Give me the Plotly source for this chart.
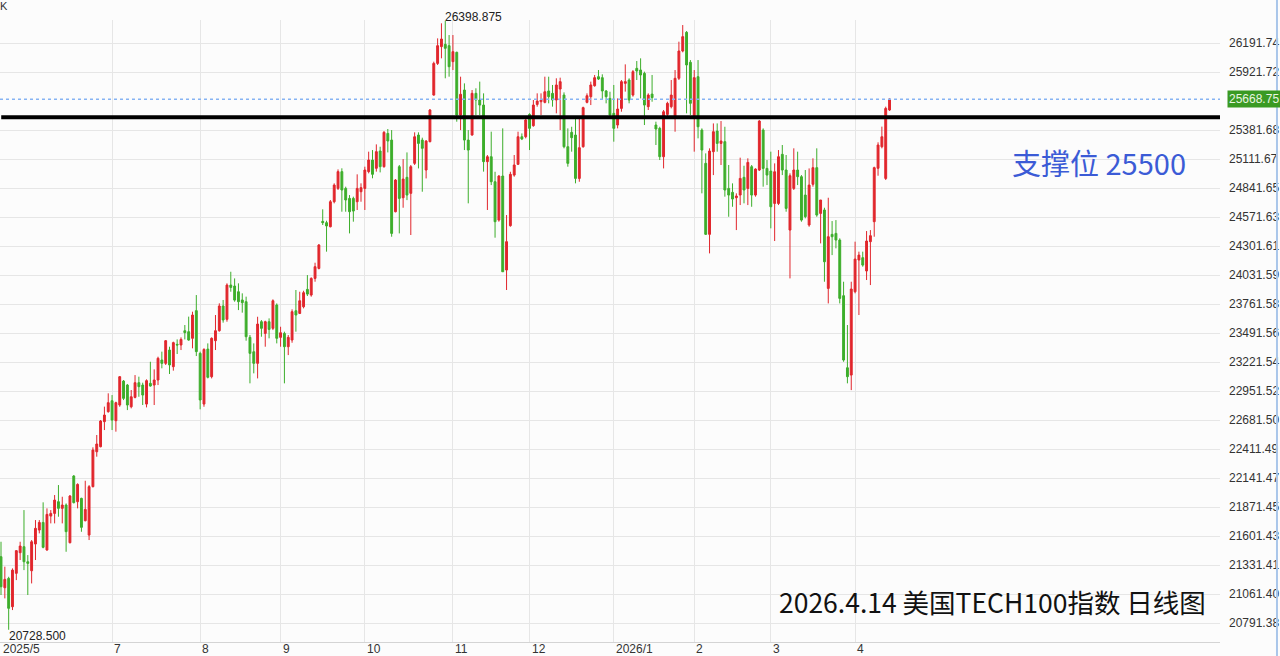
import plotly.graph_objects as go

# ---------------- data ----------------
opens = [21409, 21120, 21207, 20943, 21254, 21446, 21502, 21362, 21278, 21527,
         21657, 21728, 21471, 21787, 21812, 21921, 21859, 21890, 21539, 22160,
         21921, 21952, 21744, 21610, 22061, 22386, 22433, 22666, 22759, 22861,
         22675, 22821, 23044, 23007, 22805, 22892, 23029, 23007, 22830, 23023,
         23007, 23054, 23240, 23209, 23333, 23178, 23386, 23380, 23513, 23504,
         23442, 23700, 23302, 22830, 23342, 23085, 23420, 23513, 23743, 23619,
         23938, 23929, 23876, 23799, 23783, 23451, 23317, 23209, 23597, 23488,
         23597, 23535, 23752, 23451, 23488, 23364, 23426, 23699, 23674, 23736,
         23898, 23845, 24000, 24093, 24531, 24519, 24481, 24714, 24838, 24994,
         24838, 24745, 24745, 24714, 24807, 24838, 24994, 25102, 25025, 25186,
         25040, 25350, 25288, 24621, 25040, 24751, 24941, 24792, 25071, 25335,
         25288, 25009, 25273, 25707, 26002, 26158, 26179, 26167, 26018, 26105,
         25521, 25754, 25288, 25335, 25723, 25661, 25614, 25087, 25133, 24900,
         24543, 24953, 24078, 24491, 24962, 25062, 25319, 25319, 25527, 25422,
         25620, 25645, 25639, 25745, 25723, 25661, 25763, 25707, 25226, 25360,
         25335, 24931, 25226, 25639, 25692, 25794, 25878, 25869, 25745, 25676,
         25537, 25428, 25583, 25816, 25847, 25707, 25956, 25940, 25909, 25599,
         25716, 25428, 25397, 25133, 25527, 25599, 25490, 25863, 26117, 26291,
         26012, 25506, 25878, 25381, 25071, 24410, 25180, 25372, 25257, 25273,
         24838, 24801, 24751, 24776, 24941, 24838, 25040, 24776, 25009, 25381,
         25024, 24999, 24698, 24698, 25155, 25009, 24450, 24838, 25009, 24947,
         24776, 24497, 24876, 25031, 24605, 24637, 23907, 24410, 24419, 24357,
         23839, 23168, 23100, 23876, 24171, 24193, 24069, 24342, 24528, 25025,
         25226, 24931, 25568]

highs = [21548, 21316, 21222, 21300, 21471, 21548, 21843, 21424, 21564, 21750,
         21750, 21915, 21859, 21843, 21983, 22076, 21967, 21905, 21983, 22169,
         22092, 21958, 22116, 22076, 22427, 22542, 22681, 22806, 22930, 22914,
         22852, 23091, 23054, 23017, 22961, 23100, 23085, 23029, 23060, 23224,
         23153, 23271, 23318, 23426, 23364, 23411, 23432, 23451, 23566, 23644,
         23690, 23845, 23318, 23349, 23395, 23451, 23659, 23768, 23799, 23954,
         24062, 24000, 23954, 23861, 23830, 23473, 23395, 23643, 23612, 23606,
         23628, 23805, 23767, 23550, 23504, 23473, 23712, 23892, 23876, 23885,
         24031, 24010, 24146, 24320, 24643, 24537, 24730, 24885, 25015, 25025,
         24854, 24776, 24761, 24969, 24885, 25040, 25180, 25195, 25248, 25226,
         25372, 25391, 25381, 24925, 25056, 25111, 25173, 25056, 25360, 25360,
         25310, 25288, 25577, 26018, 26235, 26375, 26398.875, 26266, 26266, 26111,
         25878, 25816, 25381, 25754, 25770, 25832, 25723, 25149, 25366, 24993,
         24962, 25397, 24590, 24993, 25149, 25366, 25350, 25490, 25537, 25661,
         25723, 25723, 25878, 25878, 25801, 25863, 25869, 25732, 25397, 25412,
         25484, 25490, 25599, 25723, 25832, 25894, 25940, 25900, 25754, 25738,
         25801, 25676, 25847, 25993, 25863, 25940, 26024, 26049, 25925, 25723,
         25894, 25459, 25412, 25568, 25645, 25847, 25940, 26204, 26359, 26303,
         26033, 25940, 26033, 25397, 25164, 25211, 25443, 25443, 25465, 25412,
         25056, 24885, 24792, 25124, 25049, 25118, 25056, 25025, 25474, 25397,
         25102, 25180, 25071, 25195, 25242, 25149, 24978, 25211, 25180, 24962,
         25009, 25024, 25118, 25211, 24730, 24658, 24751, 24534, 24543, 24373,
         23969, 23566, 23969, 24342, 24249, 24249, 24441, 24450, 25040, 25267,
         25413, 25599, 25676]

lows = [21052, 21021, 20728.5, 20912, 21191, 21378, 21284, 21052, 21160, 21378,
        21626, 21487, 21465, 21719, 21719, 21781, 21719, 21455, 21533, 21905,
        21859, 21641, 21738, 21564, 22054, 22340, 22427, 22588, 22750, 22588,
        22573, 22805, 22867, 22774, 22790, 22883, 22898, 22821, 22799, 22992,
        22821, 23007, 23163, 23194, 23110, 23141, 23296, 23333, 23432, 23420,
        23349, 23277, 22781, 22805, 23069, 23069, 23333, 23504, 23588, 23597,
        23876, 23783, 23705, 23681, 23420, 23023, 23116, 23069, 23457, 23364,
        23442, 23519, 23395, 23364, 23023, 23286, 23401, 23504, 23668, 23721,
        23836, 23830, 23969, 24084, 24497, 24249, 24475, 24699, 24823, 24621,
        24621, 24419, 24528, 24637, 24714, 24637, 24978, 24932, 24994, 24987,
        25031, 25173, 24388, 24615, 24419, 24658, 24729, 24404, 25056, 25024,
        24807, 24931, 25267, 25701, 25987, 26049, 25863, 25878, 25940, 25459,
        25381, 25195, 24699, 25329, 25521, 25521, 24994, 24637, 24869, 24379,
        24528, 24062, 23892, 24481, 24947, 25056, 25288, 25304, 25195, 25412,
        25599, 25521, 25630, 25630, 25599, 25537, 25381, 25211, 25040, 25180,
        24885, 24900, 25217, 25630, 25614, 25785, 25847, 25661, 25630, 25490,
        25273, 25397, 25552, 25739, 25630, 25692, 25847, 25676, 25428, 25568,
        25645, 25242, 25102, 25024, 25506, 25583, 25366, 25847, 26105, 25537,
        25521, 25180, 25304, 24792, 24404, 24233, 24962, 25180, 25056, 24761,
        24574, 24667, 24450, 24683, 24699, 24683, 24667, 24761, 25000, 24854,
        24869, 24466, 24348, 24683, 24962, 24621, 24000, 24823, 24869, 24528,
        24559, 24481, 24854, 24574, 24326, 23969, 23767, 24217, 24280, 23767,
        23224, 23023, 22960, 23861, 23659, 24109, 23985, 23938, 24388, 24956,
        25211, 24916, 25559]

closes = [21129, 21198, 20928, 21284, 21465, 21508, 21362, 21347, 21548, 21673,
          21728, 21496, 21803, 21812, 21936, 21859, 21890, 21642, 21974, 21912,
          22082, 21682, 21849, 22061, 22402, 22458, 22672, 22728, 22843, 22681,
          22843, 23085, 22883, 22821, 22898, 23029, 22992, 22914, 23048, 22998,
          23054, 23256, 23209, 23420, 23194, 23402, 23380, 23432, 23495, 23426,
          23659, 23318, 22868, 23339, 23079, 23442, 23513, 23743, 23613, 23938,
          23916, 23798, 23783, 23774, 23457, 23302, 23209, 23575, 23535, 23597,
          23525, 23792, 23442, 23494, 23364, 23451, 23690, 23659, 23792, 23867,
          23854, 24000, 24109, 24311, 24519, 24488, 24714, 24869, 24994, 24823,
          24730, 24621, 24627, 24838, 24845, 25009, 25102, 24969, 25180, 25040,
          25360, 25279, 24419, 24916, 24745, 24925, 24776, 25040, 25319, 25257,
          25211, 25279, 25568, 26002, 26167, 26229, 26142, 25971, 26111, 25521,
          25714, 25288, 25195, 25723, 25661, 25614, 25087, 25133, 24900, 24528,
          24953, 24062, 24342, 24969, 25056, 25319, 25298, 25475, 25397, 25614,
          25651, 25661, 25738, 25692, 25661, 25801, 25832, 25226, 25071, 25310,
          24931, 25217, 25590, 25701, 25801, 25869, 25856, 25745, 25692, 25521,
          25397, 25577, 25832, 25832, 25661, 25925, 25931, 25894, 25614, 25707,
          25683, 25391, 25133, 25552, 25630, 25707, 25863, 26117, 26251, 25987,
          25630, 25869, 25412, 25195, 24410, 25186, 25366, 25257, 25279, 24823,
          24776, 24739, 24767, 24931, 24823, 25080, 24776, 25018, 25465, 25024,
          24962, 24667, 24993, 25133, 25009, 24652, 24956, 25009, 24947, 24543,
          24575, 24869, 25031, 24590, 24730, 24155, 24388, 24388, 24357, 23814,
          23240, 23085, 23901, 24180, 24217, 24124, 24348, 24398, 25031, 25242,
          25319, 25583, 25668.75]

month_labels = ["2025/5", "7", "8", "9", "10", "11", "12", "2026/1", "2", "3", "4"]
month_start_idx = [0, 29, 52, 73, 95, 118, 138, 160, 181, 201, 223]

y_tick_values = [26191.74, 25921.722, 25381.686, 25111.668, 24841.65, 24571.632,
                 24301.614, 24031.596, 23761.578, 23491.56, 23221.542, 22951.524,
                 22681.506, 22411.488, 22141.47, 21871.452, 21601.434, 21331.416,
                 21061.398, 20791.38]
y_tick_labels = ["26191.74", "25921.72", "25381.68", "25111.67", "24841.65", "24571.63",
                 "24301.61", "24031.59", "23761.58", "23491.56", "23221.54", "22951.52",
                 "22681.50", "22411.49", "22141.47", "21871.45", "21601.43", "21331.41",
                 "21061.40", "20791.38"]

support_level = 25500
last_price = 25668.75
peak_high = 26398.875
trough_low = 20728.5
support_text = "支撑位 25500"
title_text = "2026.4.14 美国TECH100指数 日线图"

# ---------------- figure ----------------
x_idx = list(range(len(opens)))
peak_idx = highs.index(max(highs))
trough_idx = lows.index(min(lows))

RED = "#e1262c"
GREEN = "#3dae2b"
TICK_FONT = "Liberation Sans, Arial"

fig = go.Figure()
fig.add_trace(go.Candlestick(
    x=x_idx, open=opens, high=highs, low=lows, close=closes,
    increasing=dict(line=dict(color=RED, width=1), fillcolor=RED),
    decreasing=dict(line=dict(color=GREEN, width=1), fillcolor=GREEN),
    whiskerwidth=0, hoverinfo="skip", showlegend=False,
))

shapes = [
    dict(type="line", xref="paper", yref="y", x0=0, x1=1,
         y0=last_price, y1=last_price,
         line=dict(color="#86b3f3", width=1.5, dash="dot"), layer="above"),
    dict(type="line", xref="paper", yref="y", x0=0.001, x1=1,
         y0=support_level, y1=support_level,
         line=dict(color="#000000", width=4), layer="above"),
    dict(type="line", xref="paper", yref="paper", x0=1.0467, x1=1.0467,
         y0=-0.03, y1=1.04, line=dict(color="#a9c6ea", width=2)),
]

annotations = []
for lab, idx in zip(month_labels, month_start_idx):
    annotations.append(dict(
        x=idx, y=0, xref="x", yref="paper", text=lab, showarrow=False,
        xanchor="left", yanchor="top", xshift=0, yshift=2,
        font=dict(family=TICK_FONT, size=12, color="#333333")))

annotations += [
    dict(x=1.0057, y=last_price, xref="paper", yref="y", text=f"{last_price:.2f}",
         showarrow=False, xanchor="left", yanchor="middle", bgcolor="#3a9a23",
         borderpad=1, font=dict(family=TICK_FONT, size=12, color="#e8f5e0")),
    dict(x=peak_idx, y=peak_high, xref="x", yref="y", text=f"{peak_high:.3f}",
         showarrow=False, xanchor="left", yanchor="middle", xshift=-2, yshift=4,
         font=dict(family=TICK_FONT, size=12, color="#222222")),
    dict(x=trough_idx, y=trough_low, xref="x", yref="y", text=f"{trough_low:.3f}",
         showarrow=False, xanchor="left", yanchor="middle", xshift=-2, yshift=-6,
         font=dict(family=TICK_FONT, size=12, color="#222222")),
    dict(x=0, y=1.0225, xref="paper", yref="paper", text="K", showarrow=False,
         xanchor="left", yanchor="middle", xshift=-2,
         font=dict(family=TICK_FONT, size=11, color="#333333")),
    dict(x=0.8279, y=0.7717, xref="paper", yref="paper", text=support_text,
         showarrow=False, xanchor="left", yanchor="middle",
         font=dict(family="Noto Sans CJK SC", size=29, color="#3b5bd6")),
    dict(x=0.990, y=0.0659, xref="paper", yref="paper", text=title_text,
         showarrow=False, xanchor="right", yanchor="middle",
         font=dict(family="Noto Sans CJK SC", size=26.5, color="#111111")),
]

fig.update_layout(
    width=1280, height=656,
    margin=dict(l=0, r=60, t=20, b=14, autoexpand=False),
    paper_bgcolor="#fcfcfc", plot_bgcolor="#fcfcfc",
    shapes=shapes, annotations=annotations,
    showlegend=False,
    xaxis=dict(
        range=[-0.26, 318.28], rangeslider=dict(visible=False),
        tickvals=month_start_idx[1:], showticklabels=False,
        showgrid=True, gridcolor="#e6e6e6", gridwidth=1,
        zeroline=False, showline=True, linecolor="#d4d4d4", ticks="",
        automargin=False,
    ),
    yaxis=dict(
        side="right", range=[20614.7, 26405.9],
        tickvals=y_tick_values, ticktext=y_tick_labels,
        tickfont=dict(family=TICK_FONT, size=12, color="#333333"),
        showgrid=True, gridcolor="#e6e6e6", gridwidth=1,
        zeroline=False, showline=False, ticks="", ticklabelstandoff=8,
        automargin=False,
    ),
)

fig.write_html(
    "out.html",
    config={"displayModeBar": False},
    post_script="document.body.style.margin='0';document.body.style.overflow='hidden';",
)
